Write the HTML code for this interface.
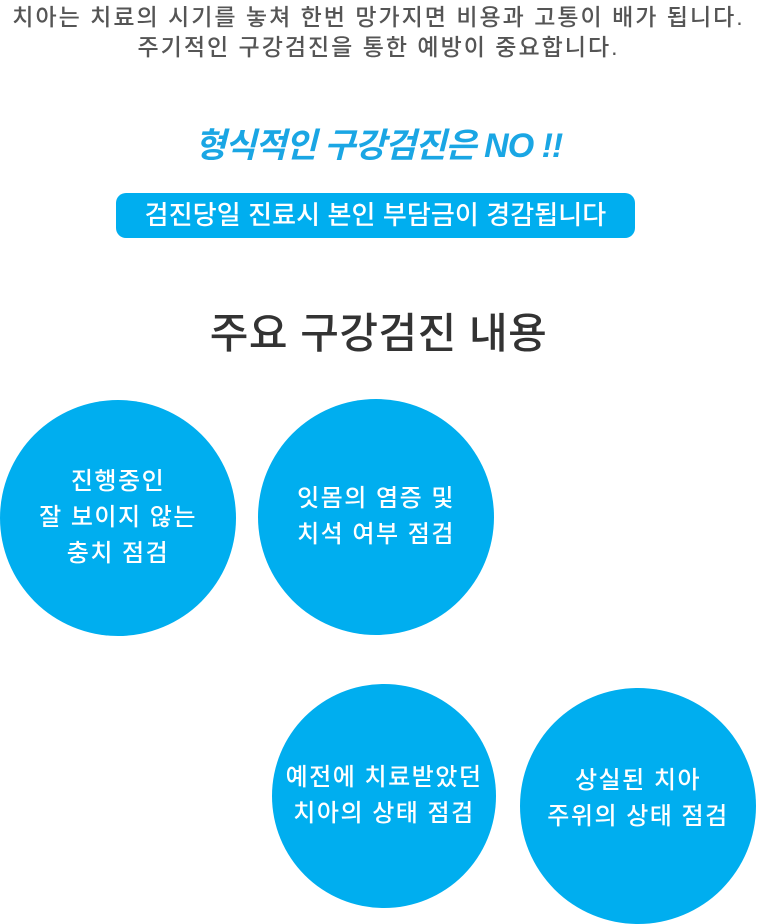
<!DOCTYPE html>
<html><head><meta charset="utf-8"><style>
body{margin:0;width:757px;height:911px;background:#fff;position:relative;overflow:hidden;font-family:"Liberation Sans","Noto Sans CJK KR",sans-serif}
.t{position:absolute;left:0;width:757px;text-align:center;white-space:nowrap}
.c{position:absolute;border-radius:50%;background:#00aeef;color:#fff;display:flex;align-items:center;justify-content:center;text-align:center;font-size:24px;line-height:36px;font-weight:500;letter-spacing:1.5px}
</style></head><body>
<div class="t" style="top:2px;font-size:23px;color:#555;line-height:30px;font-weight:500;letter-spacing:2px">치아는 치료의 시기를 놓쳐 한번 망가지면 비용과 고통이 배가 됩니다.<br>주기적인 구강검진을 통한 예방이 중요합니다.</div>
<div class="t" style="top:118px;font-size:34px;color:#1aa6e4;font-style:italic;font-weight:bold;letter-spacing:-1px">형식적인 구강검진은 NO !!</div>
<div style="position:absolute;left:116px;top:193px;width:519px;height:45px;border-radius:10px;background:#00aeef;color:#fff;font-size:26px;line-height:44px;text-align:center;font-weight:500;letter-spacing:0.1px">검진당일 진료시 본인 부담금이 경감됩니다</div>
<div class="t" style="top:300px;font-size:42px;color:#333;font-weight:500;letter-spacing:0.5px">주요 구강검진 내용</div>
<div class="c" style="left:0;top:400px;width:236px;height:236px">진행중인<br>잘 보이지 않는<br>충치 점검</div>
<div class="c" style="left:258px;top:399px;width:236px;height:236px">잇몸의 염증 및<br>치석 여부 점검</div>
<div class="c" style="left:272px;top:684px;width:224px;height:224px">예전에 치료받았던<br>치아의 상태 점검</div>
<div class="c" style="left:520px;top:688px;width:236px;height:236px;padding-bottom:14px;box-sizing:border-box">상실된 치아<br>주위의 상태 점검</div>
</body></html>
